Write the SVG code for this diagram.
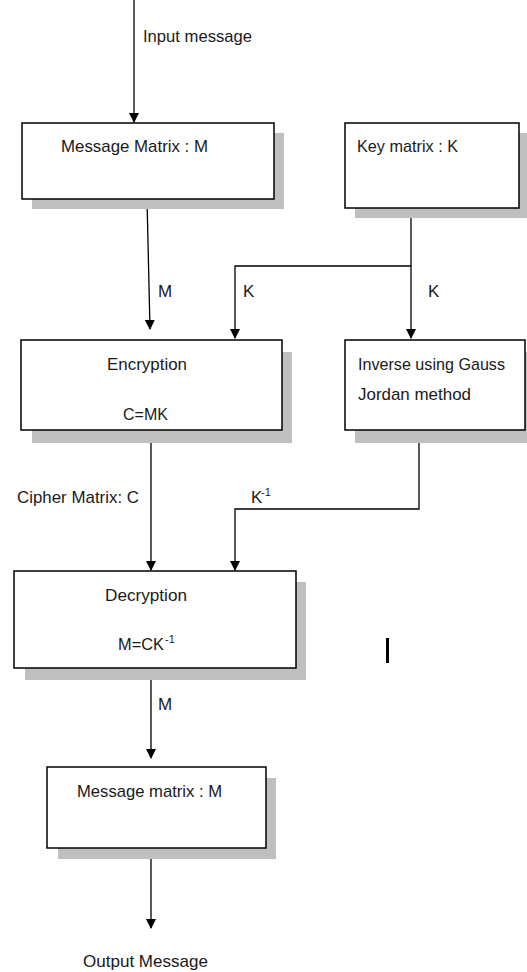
<svg xmlns="http://www.w3.org/2000/svg" width="527" height="972" viewBox="0 0 527 972">
<style>
.box{fill:#fff;stroke:#000;stroke-width:1.5}
.sh{fill:#bfbfbf}
.t{font-family:"Liberation Sans",Arial,sans-serif;font-size:17px;fill:#1a1a1a}
.sup{font-family:"Liberation Sans",Arial,sans-serif;font-size:11px;fill:#1a1a1a}
.ln{fill:none;stroke:#000;stroke-width:1.3}
</style>
<defs>
<marker id="ah" markerWidth="10" markerHeight="12" refX="9" refY="5" orient="auto" markerUnits="userSpaceOnUse">
<path d="M0,0 L10,5 L0,10 Z" fill="#000"/>
</marker>
</defs>
<rect width="527" height="972" fill="#fff"/>
<g id="connectors">
<line class="ln" x1="134" y1="0" x2="134" y2="122" marker-end="url(#ah)"/>
<line class="ln" x1="147" y1="199" x2="150" y2="329" marker-end="url(#ah)"/>
<line class="ln" x1="411" y1="208" x2="411" y2="338" marker-end="url(#ah)"/>
<polyline class="ln" points="411,266 235,266 235,338" marker-end="url(#ah)"/>
<line class="ln" x1="151" y1="430" x2="151" y2="570" marker-end="url(#ah)"/>
<polyline class="ln" points="419,430 419,509 235,509 235,570" marker-end="url(#ah)"/>
<line class="ln" x1="151" y1="668" x2="151" y2="758" marker-end="url(#ah)"/>
<line class="ln" x1="151" y1="848" x2="151" y2="928" marker-end="url(#ah)"/>
<text class="t" x="143" y="42" textLength="109" lengthAdjust="spacingAndGlyphs">Input message</text>
<text class="t" x="158" y="297">M</text>
<text class="t" x="243" y="297">K</text>
<text class="t" x="428" y="297">K</text>
<text class="t" x="17" y="503" textLength="122" lengthAdjust="spacingAndGlyphs">Cipher Matrix: C</text>
<text class="t" x="251" y="503">K</text>
<text class="sup" x="261" y="496">-1</text>
<text class="t" x="158" y="710">M</text>
<text class="t" x="83" y="967" textLength="125" lengthAdjust="spacingAndGlyphs">Output Message</text>
</g>
<g id="message-matrix">
<rect class="sh" x="32" y="133" width="252" height="76"/>
<rect class="box" x="22" y="123" width="252" height="76"/>
<text class="t" x="61" y="152" textLength="147" lengthAdjust="spacingAndGlyphs">Message Matrix : M</text>
</g>
<g id="key-matrix">
<rect class="sh" x="355" y="133" width="174" height="85"/>
<rect class="box" x="345" y="123" width="174" height="85"/>
<text class="t" x="357" y="152" textLength="101" lengthAdjust="spacingAndGlyphs">Key matrix : K</text>
</g>
<g id="encryption">
<rect class="sh" x="32" y="352" width="260" height="91"/>
<rect class="box" x="21" y="340" width="261" height="90"/>
<text class="t" x="107" y="370" textLength="80" lengthAdjust="spacingAndGlyphs">Encryption</text>
<text class="t" x="123" y="420" textLength="45" lengthAdjust="spacingAndGlyphs">C=MK</text>
</g>
<g id="inverse">
<rect class="sh" x="355" y="352" width="172" height="91"/>
<rect class="box" x="345" y="340" width="180" height="90"/>
<text class="t" x="358" y="370" textLength="147" lengthAdjust="spacingAndGlyphs">Inverse using Gauss</text>
<text class="t" x="358" y="400" textLength="113" lengthAdjust="spacingAndGlyphs">Jordan method</text>
</g>
<g id="decryption">
<rect class="sh" x="25" y="582" width="281" height="98"/>
<rect class="box" x="14" y="571" width="282" height="97"/>
<text class="t" x="105" y="601" textLength="82" lengthAdjust="spacingAndGlyphs">Decryption</text>
<text class="t" x="118" y="650" textLength="46" lengthAdjust="spacingAndGlyphs">M=CK</text>
<text class="sup" x="165" y="643">-1</text>
</g>
<g id="output-matrix">
<rect class="sh" x="58" y="778" width="218" height="81"/>
<rect class="box" x="47" y="767" width="219" height="81"/>
<text class="t" x="77" y="797" textLength="145" lengthAdjust="spacingAndGlyphs">Message matrix : M</text>
</g>
<rect x="386" y="638" width="3" height="25" fill="#000"/>
</svg>
